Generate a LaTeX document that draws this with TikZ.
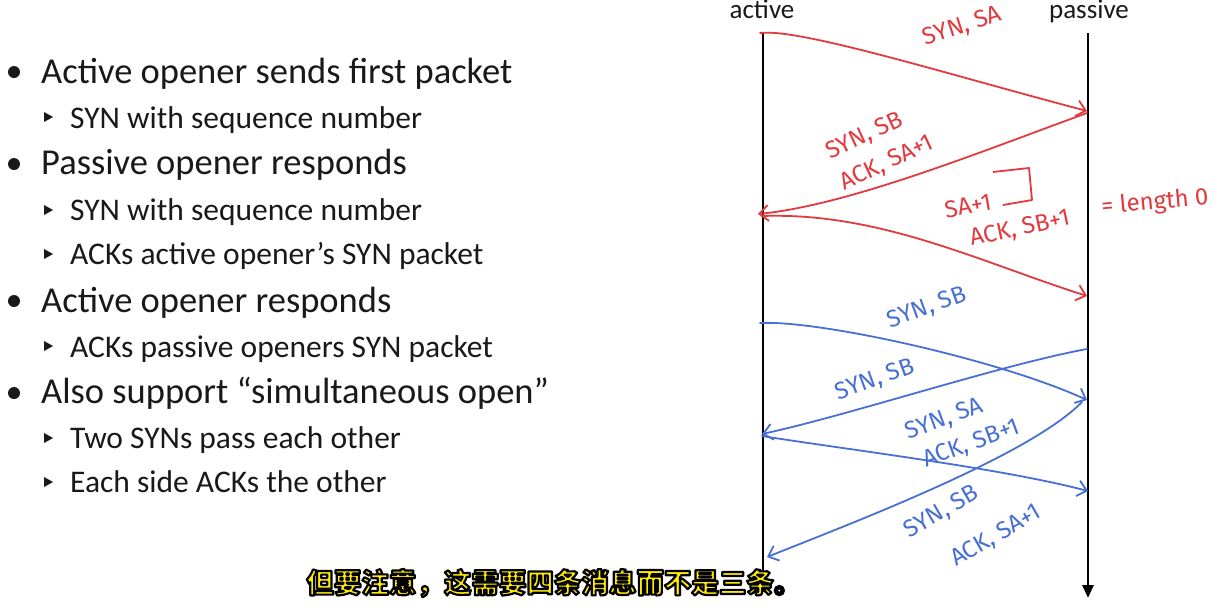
\documentclass[tikz,border=0pt]{standalone}
\usepackage{fontspec}
\setmainfont{Carlito}
\newfontfamily\handfont{Fira Sans}
\newfontfamily\cjkfont{Noto Sans CJK SC}
\usetikzlibrary{arrows.meta}
\definecolor{inkred}{RGB}{226,58,62}
\definecolor{inkblue}{RGB}{72,112,212}
\definecolor{slidegray}{RGB}{25,25,25}
\definecolor{subyellow}{RGB}{255,236,0}
\tikzset{
  lvlone/.style={anchor=base west, inner sep=0pt, text=slidegray, font=\fontsize{36.5}{40}\selectfont},
  lvltwo/.style={anchor=base west, inner sep=0pt, text=slidegray, font=\fontsize{31.5}{34}\selectfont},
  head/.style={anchor=base, inner sep=0pt, text=slidegray, font=\fontsize{27}{30}\selectfont},
  timeline/.style={line width=2.8pt, black},
  redmsg/.style={inkred, line width=1.8pt, line cap=round, -{Straight Barb[length=9pt,width=16pt,line width=1.8pt]}},
  bluemsg/.style={inkblue, line width=1.8pt, line cap=round, -{Straight Barb[length=9pt,width=16pt,line width=1.8pt]}},
  note/.style={inner sep=0pt, align=left, font=\handfont\fontsize{24}{26}\selectfont},
  subtitle/.style={inner sep=0pt, text=subyellow, font=\cjkfont\bfseries\fontsize{27.5}{30}\selectfont}
}
\begin{document}
\begin{tikzpicture}[x=1pt,y=-1pt]
    \useasboundingbox[fill=white] (0,0) rectangle (1225,606);
    % bullet list
    \fill[slidegray] (14,72) circle (6);
    \fill[slidegray] (14,164) circle (6);
    \fill[slidegray] (14,301) circle (6);
    \fill[slidegray] (14,393) circle (6);
    \fill[slidegray] (44,112) -- (53,117) -- (44,122) -- cycle;
    \fill[slidegray] (44,205) -- (53,210) -- (44,215) -- cycle;
    \fill[slidegray] (44,249) -- (53,254) -- (44,259) -- cycle;
    \fill[slidegray] (44,341) -- (53,346) -- (44,351) -- cycle;
    \fill[slidegray] (44,433) -- (53,438) -- (44,443) -- cycle;
    \fill[slidegray] (44,477) -- (53,482) -- (44,487) -- cycle;
    \node[lvlone] (itemA) at (41,83) {Active opener sends first packet};
    \node[lvltwo] (itemAa) at (70,128) {SYN with sequence number};
    \node[lvlone] (itemB) at (41,174) {Passive opener responds};
    \node[lvltwo] (itemBa) at (70,220) {SYN with sequence number};
    \node[lvltwo] (itemBb) at (70,264) {ACKs active opener’s SYN packet};
    \node[lvlone] (itemC) at (41,312) {Active opener responds};
    \node[lvltwo] (itemCa) at (70,357) {ACKs passive openers SYN packet};
    \node[lvlone] (itemD) at (41,403) {Also support “simultaneous open”};
    \node[lvltwo] (itemDa) at (70,448) {Two SYNs pass each other};
    \node[lvltwo] (itemDb) at (70,492) {Each side ACKs the other};

    % time lines
    \node[head] (actlbl) at (762,18) {active};
    \node[head] (paslbl) at (1089,18) {passive};
    \coordinate (acttop) at (763,32);
    \coordinate (actbot) at (763,572);
    \coordinate (pastop) at (1088,33);
    \coordinate (pasbot) at (1088,598);
    \draw[timeline] (acttop) -- (actbot);
    \draw[timeline,-{Triangle[length=13pt,width=11pt]}] (pastop) -- (pasbot);

    % normal open (red)
    \coordinate (r1a) at (760,33);
    \coordinate (r1b) at (1087,111);
    \coordinate (r2a) at (1087,113);
    \coordinate (r2b) at (758,214);
    \coordinate (r3a) at (762,216);
    \coordinate (r3b) at (1087,296);
    \draw[redmsg] (r1a) .. controls (800,28) and (950,75) .. (r1b);
    \draw[redmsg] (r2a) .. controls (985,150) and (850,205) .. (r2b);
    \draw[redmsg] (r3a) .. controls (880,212) and (980,262) .. (r3b);
    \node[note,text=inkred,rotate=18] (r1lbl) at (962,27) {SYN, SA};
    \node[note,text=inkred,rotate=25] (r2lbl) at (880,148) {SYN, SB\\[8pt]ACK, SA+1};
    \node[note,text=inkred,rotate=10] (r3lbla) at (968,206) {SA+1};
    \node[note,text=inkred,rotate=12] (r3lblb) at (1020,229) {ACK, SB+1};
    \draw[inkred,line width=1.8pt,line join=round] (993,172) -- (1029,168) -- (1032,200) -- (1003,205);
    \node[note,text=inkred,rotate=5] (lenlbl) at (1155,203) {= length 0};

    % simultaneous open (blue)
    \coordinate (b1a) at (760,323);
    \coordinate (b1b) at (1087,400);
    \coordinate (b2a) at (1087,349);
    \coordinate (b2b) at (762,434);
    \coordinate (b3a) at (762,436);
    \coordinate (b3b) at (1088,491);
    \coordinate (b4a) at (1082,402);
    \coordinate (b4b) at (767,557);
    \draw[bluemsg] (b1a) .. controls (820,320) and (1000,360) .. (b1b);
    \draw[bluemsg] (b2a) .. controls (1000,365) and (850,415) .. (b2b);
    \draw[bluemsg] (b3a) .. controls (850,450) and (1000,468) .. (b3b);
    \draw[bluemsg] (b4a) .. controls (1030,455) and (860,520) .. (b4b);
    \node[note,text=inkblue,rotate=20] (b1lbl) at (927,308) {SYN, SB};
    \node[note,text=inkblue,rotate=20] (b2lbl) at (875,380) {SYN, SB};
    \node[note,text=inkblue,rotate=20] (b3lbl) at (963,430) {SYN, SA\\[6pt]\hspace*{7pt}ACK, SB+1};
    \node[note,text=inkblue,rotate=30] (b4lbl) at (973,522) {SYN, SB\\[22pt]\hspace*{26pt}ACK, SA+1};

    % subtitle
    \node[subtitle] (sub) at (554,583) {\special{pdf:literal 2 Tr 2.2 w 1 j 0 0 0 RG}但要注意，这需要四条消息而不是三条。\special{pdf:literal 0 Tr}};
\end{tikzpicture}
\end{document}
